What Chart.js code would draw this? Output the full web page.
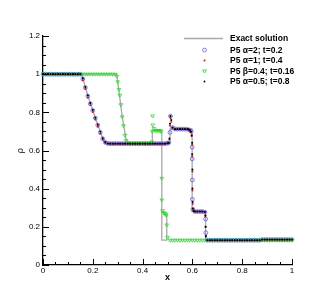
<!DOCTYPE html>
<html>
<head>
<meta charset="utf-8">
<script src="https://cdn.jsdelivr.net/npm/chart.js@4.4.0/dist/chart.umd.min.js"></script>
<style>
html, body { margin: 0; padding: 0; background: #fff; }
canvas { display: block; }
</style>
</head>
<body>
<canvas id="myChart" width="332" height="296"></canvas>
<script>
// density profiles

// exact solution, alpha cases (self similar)
const exactAX = [0, 0.155, 0.18, 0.2, 0.22, 0.245, 0.25, 0.51, 0.51, 0.599, 0.599, 0.653, 0.653, 1];
const exactAY = [1, 1, 0.888, 0.81, 0.735, 0.645, 0.636, 0.636, 0.712, 0.712, 0.28, 0.28, 0.13, 0.13];

// exact solution, beta case
const exactBX = [0, 0.296, 0.318, 0.336, 0.439, 0.439, 0.477, 0.477, 0.497, 0.497];
const exactBY = [1, 1, 0.78, 0.638, 0.638, 0.705, 0.705, 0.13, 0.13, 0.27];

// P5 alpha=2; t=0.2 (blue circles)
const xA2 = [0, 0.01, 0.02, 0.03, 0.04, 0.05, 0.06, 0.07, 0.08, 0.09, 0.1, 0.11, 0.12, 0.13, 0.14, 0.15,
  0.16, 0.17, 0.18, 0.19, 0.2, 0.21, 0.22, 0.23, 0.24, 0.25, 0.26,
  0.27, 0.28, 0.29, 0.3, 0.31, 0.32, 0.33, 0.34, 0.35, 0.36, 0.37, 0.38, 0.39, 0.4, 0.41, 0.42, 0.43, 0.44, 0.45, 0.46, 0.47, 0.48, 0.49, 0.5,
  0.505, 0.51, 0.512,
  0.52, 0.53, 0.54, 0.55, 0.56, 0.57, 0.58, 0.59, 0.595,
  0.599, 0.599, 0.6, 0.6, 0.602,
  0.61, 0.62, 0.63, 0.64, 0.65,
  0.653, 0.654,
  0.66, 0.67, 0.68, 0.69, 0.7, 0.71, 0.72, 0.73, 0.74, 0.75, 0.76, 0.77, 0.78, 0.79, 0.8, 0.81, 0.82, 0.83, 0.84, 0.85, 0.86, 0.87,
  0.88, 0.89, 0.9, 0.91, 0.92, 0.93, 0.94, 0.95, 0.96, 0.97, 0.98, 0.99, 1];
const rhoA2 = [1, 1, 1, 1, 1, 1, 1, 1, 1, 1, 1, 1, 1, 1, 1, 1,
  0.975, 0.93, 0.885, 0.845, 0.81, 0.77, 0.733, 0.695, 0.662, 0.643, 0.637,
  0.636, 0.636, 0.636, 0.636, 0.636, 0.636, 0.636, 0.636, 0.636, 0.636, 0.636, 0.636, 0.636, 0.636, 0.636, 0.636, 0.636, 0.636, 0.636, 0.636, 0.636, 0.636, 0.636, 0.638,
  0.642, 0.695, 0.78,
  0.72, 0.713, 0.712, 0.712, 0.712, 0.712, 0.711, 0.707, 0.7,
  0.617, 0.556, 0.445, 0.344, 0.292,
  0.28, 0.28, 0.28, 0.28, 0.277,
  0.241, 0.169,
  0.13, 0.13, 0.13, 0.13, 0.13, 0.13, 0.13, 0.13, 0.13, 0.13, 0.13, 0.13, 0.13, 0.13, 0.13, 0.13, 0.13, 0.13, 0.13, 0.13, 0.13, 0.13,
  0.133, 0.133, 0.133, 0.133, 0.133, 0.133, 0.133, 0.133, 0.133, 0.133, 0.133, 0.133, 0.133];

// P5 alpha=1; t=0.4 (red) and alpha=0.5; t=0.8 (black) share cell positions
const xFine = [0, 0.01, 0.02, 0.03, 0.04, 0.05, 0.06, 0.07, 0.08, 0.09, 0.1, 0.11, 0.12, 0.13, 0.14, 0.15,
  0.16, 0.17, 0.18, 0.19, 0.2, 0.21, 0.22, 0.23, 0.24, 0.25, 0.26,
  0.27, 0.28, 0.29, 0.3, 0.31, 0.32, 0.33, 0.34, 0.35, 0.36, 0.37, 0.38, 0.39, 0.4, 0.41, 0.42, 0.43, 0.44, 0.45, 0.46, 0.47, 0.48, 0.49, 0.5,
  0.505, 0.508, 0.51, 0.512, 0.515,
  0.52, 0.53, 0.54, 0.55, 0.56, 0.57, 0.58, 0.585, 0.59, 0.594, 0.597,
  0.599, 0.599, 0.6, 0.6, 0.601, 0.602,
  0.605, 0.61, 0.62, 0.63, 0.64, 0.65,
  0.652, 0.653, 0.654,
  0.66, 0.67, 0.68, 0.69, 0.7, 0.71, 0.72, 0.73, 0.74, 0.75, 0.76, 0.77, 0.78, 0.79, 0.8, 0.81, 0.82, 0.83, 0.84, 0.85, 0.86, 0.87,
  0.88, 0.89, 0.9, 0.91, 0.92, 0.93, 0.94, 0.95, 0.96, 0.97, 0.98, 0.99, 1];
const rhoA1 = [1, 1, 1, 1, 1, 1, 1, 1, 1, 1, 1, 1, 1, 1, 1, 1,
  0.968, 0.922, 0.877, 0.838, 0.802, 0.762, 0.725, 0.688, 0.657, 0.641, 0.637,
  0.636, 0.636, 0.636, 0.636, 0.636, 0.636, 0.636, 0.636, 0.636, 0.636, 0.636, 0.636, 0.636, 0.636, 0.636, 0.636, 0.636, 0.636, 0.636, 0.636, 0.636, 0.636, 0.636, 0.638,
  0.64, 0.665, 0.73, 0.77, 0.75,
  0.72, 0.712, 0.712, 0.712, 0.712, 0.712, 0.712, 0.71, 0.705, 0.697, 0.675,
  0.63, 0.57, 0.49, 0.39, 0.32, 0.295,
  0.283, 0.28, 0.28, 0.28, 0.28, 0.278,
  0.255, 0.2, 0.155,
  0.13, 0.13, 0.13, 0.13, 0.13, 0.13, 0.13, 0.13, 0.13, 0.13, 0.13, 0.13, 0.13, 0.13, 0.13, 0.13, 0.13, 0.13, 0.13, 0.13, 0.13, 0.13,
  0.133, 0.133, 0.133, 0.133, 0.133, 0.133, 0.133, 0.133, 0.133, 0.133, 0.133, 0.133, 0.133];
const rhoA05 = [1, 1, 1, 1, 1, 1, 1, 1, 1, 1, 1, 1, 1, 1, 1, 1,
  0.978, 0.933, 0.888, 0.848, 0.812, 0.772, 0.735, 0.698, 0.664, 0.644, 0.637,
  0.636, 0.636, 0.636, 0.636, 0.636, 0.636, 0.636, 0.636, 0.636, 0.636, 0.636, 0.636, 0.636, 0.636, 0.636, 0.636, 0.636, 0.636, 0.636, 0.636, 0.636, 0.636, 0.636, 0.638,
  0.64, 0.66, 0.74, 0.78, 0.76,
  0.72, 0.712, 0.712, 0.712, 0.712, 0.712, 0.712, 0.71, 0.706, 0.698, 0.68,
  0.64, 0.58, 0.5, 0.4, 0.33, 0.295,
  0.283, 0.28, 0.28, 0.28, 0.28, 0.278,
  0.26, 0.2, 0.15,
  0.13, 0.13, 0.13, 0.13, 0.13, 0.13, 0.13, 0.13, 0.13, 0.13, 0.13, 0.13, 0.13, 0.13, 0.13, 0.13, 0.13, 0.13, 0.13, 0.13, 0.13, 0.13,
  0.133, 0.133, 0.133, 0.133, 0.133, 0.133, 0.133, 0.133, 0.133, 0.133, 0.133, 0.133, 0.133];

// P5 beta=0.4; t=0.16 (green triangles)
const xB04 = [0, 0.01, 0.02, 0.03, 0.04, 0.05, 0.06, 0.07, 0.08, 0.09, 0.1, 0.11, 0.12, 0.13, 0.14,
  0.15, 0.16, 0.17, 0.18, 0.19, 0.2, 0.21, 0.22, 0.23, 0.24, 0.25, 0.26, 0.27, 0.28, 0.29,
  0.296, 0.3, 0.305, 0.309, 0.313, 0.318, 0.323, 0.329, 0.334, 0.34,
  0.35, 0.36, 0.37, 0.38, 0.39, 0.4, 0.41, 0.42, 0.43,
  0.437, 0.439, 0.44, 0.441, 0.445, 0.45, 0.455, 0.46, 0.465, 0.47, 0.474,
  0.477, 0.477, 0.48, 0.484, 0.488, 0.492, 0.495, 0.497, 0.5,
  0.51, 0.52, 0.53, 0.54, 0.55, 0.56, 0.57, 0.58, 0.59, 0.6, 0.61, 0.62, 0.63, 0.64, 0.65, 0.66, 0.67, 0.68, 0.69, 0.7,
  0.71, 0.72, 0.73, 0.74, 0.75, 0.76, 0.77, 0.78, 0.79, 0.8, 0.81, 0.82, 0.83, 0.84, 0.85, 0.86, 0.87, 0.88, 0.89, 0.9,
  0.91, 0.92, 0.93, 0.94, 0.95, 0.96, 0.97, 0.98, 0.99, 1];
const rhoB04 = [1, 1, 1, 1, 1, 1, 1, 1, 1, 1, 1, 1, 1, 1, 1,
  1, 1, 1, 1, 1, 1, 1, 1, 1, 1, 1, 1, 1, 1, 1,
  0.99, 0.96, 0.92, 0.89, 0.84, 0.777, 0.73, 0.68, 0.652, 0.642,
  0.638, 0.638, 0.638, 0.638, 0.638, 0.638, 0.638, 0.638, 0.638,
  0.645, 0.7, 0.781, 0.734, 0.715, 0.705, 0.705, 0.705, 0.705, 0.705, 0.7,
  0.454, 0.341, 0.285, 0.275, 0.27, 0.268, 0.26, 0.21, 0.145,
  0.13, 0.13, 0.13, 0.13, 0.13, 0.13, 0.13, 0.13, 0.13, 0.13, 0.13, 0.13, 0.13, 0.13, 0.13, 0.13, 0.13, 0.13, 0.13, 0.13,
  0.13, 0.13, 0.13, 0.13, 0.13, 0.13, 0.13, 0.13, 0.13, 0.13, 0.13, 0.13, 0.13, 0.13, 0.13, 0.13, 0.13, 0.13, 0.13, 0.13,
  0.13, 0.13, 0.13, 0.13, 0.13, 0.13, 0.13, 0.13, 0.13, 0.13];

const legendLabels = ['Exact solution', 'P5 \u03b1=2; t=0.2', 'P5 \u03b1=1; t=0.4', 'P5 \u03b2=0.4; t=0.16', 'P5 \u03b1=0.5; t=0.8'];

function pts(xs, ys) {
  return xs.map((x, i) => ({x: x, y: ys[i]}));
}

// label only every 0.2, minor ticks every 0.05
function majorLabel(v) {
  const k = Math.round(v / 0.2);
  return Math.abs(v - k * 0.2) < 1e-6 ? String(k * 2 / 10) : '';
}

const GRAY = '#a9a9a9';
const BLUE = '#5a5aff';
const RED = '#ff0000';
const GREEN = '#22dd22';

// tecplot style ticks pointing into the plot
const inwardTicks = {
  id: 'inwardTicks',
  afterDatasetsDraw(chart) {
    const {ctx, chartArea, scales} = chart;
    ctx.save();
    ctx.strokeStyle = '#000';
    ctx.lineWidth = 1;
    scales.x.ticks.forEach(t => {
      const px = Math.round(scales.x.getPixelForValue(t.value)) + 0.5;
      const len = t.label ? 6 : 3;
      ctx.beginPath();
      ctx.moveTo(px, chartArea.bottom);
      ctx.lineTo(px, chartArea.bottom - len);
      ctx.stroke();
    });
    scales.y.ticks.forEach(t => {
      const py = Math.round(scales.y.getPixelForValue(t.value)) + 0.5;
      const len = t.label ? 6 : 3;
      ctx.beginPath();
      ctx.moveTo(chartArea.left, py);
      ctx.lineTo(chartArea.left + len, py);
      ctx.stroke();
    });
    ctx.restore();
  }
};

const legendBox = {
  id: 'legendBox',
  afterDraw(chart) {
    const ctx = chart.ctx;
    const rows = [38.5, 50, 60.5, 71, 81.5];
    const mx = 204.5, tx = 230;
    ctx.save();
    // exact line sample
    ctx.strokeStyle = GRAY;
    ctx.lineWidth = 1.5;
    ctx.beginPath();
    ctx.moveTo(184, rows[0]);
    ctx.lineTo(223, rows[0]);
    ctx.stroke();
    // blue circle
    ctx.strokeStyle = BLUE;
    ctx.lineWidth = 0.8;
    ctx.beginPath();
    ctx.arc(mx, rows[1], 1.9, 0, Math.PI * 2);
    ctx.stroke();
    // red dot
    ctx.fillStyle = RED;
    ctx.beginPath();
    ctx.arc(mx, rows[2], 1, 0, Math.PI * 2);
    ctx.fill();
    // green down triangle
    ctx.strokeStyle = GREEN;
    ctx.beginPath();
    ctx.moveTo(mx - 1.9, rows[3] - 1.1);
    ctx.lineTo(mx + 1.9, rows[3] - 1.1);
    ctx.lineTo(mx, rows[3] + 2);
    ctx.closePath();
    ctx.stroke();
    // black dot
    ctx.fillStyle = '#000';
    ctx.beginPath();
    ctx.arc(mx, rows[4], 0.9, 0, Math.PI * 2);
    ctx.fill();
    ctx.font = 'bold 8.5px "Liberation Sans", Arial, sans-serif';
    ctx.textBaseline = 'middle';
    ctx.fillStyle = '#000';
    legendLabels.forEach((s, i) => ctx.fillText(s, tx, rows[i] + 0.5));
    ctx.restore();
  }
};

const ctx = document.getElementById('myChart');
new Chart(ctx, {
  type: 'scatter',
  data: {
    datasets: [
      {
        label: legendLabels[4],
        data: pts(xFine, rhoA05),
        pointStyle: 'circle',
        pointRadius: 1.05,
        pointBorderWidth: 0,
        backgroundColor: '#000',
        borderColor: '#000',
        clip: false
      },
      {
        label: legendLabels[2],
        data: pts(xFine, rhoA1),
        pointStyle: 'circle',
        pointRadius: 0.95,
        pointBorderWidth: 0,
        backgroundColor: RED,
        borderColor: RED,
        clip: false
      },
      {
        label: legendLabels[3],
        data: pts(xB04, rhoB04),
        pointStyle: 'triangle',
        rotation: 180,
        pointRadius: 2,
        pointBorderWidth: 0.8,
        backgroundColor: 'rgba(0,0,0,0)',
        borderColor: GREEN,
        clip: false
      },
      {
        label: legendLabels[1],
        data: pts(xA2, rhoA2),
        pointStyle: 'circle',
        pointRadius: 1.9,
        pointBorderWidth: 0.8,
        backgroundColor: 'rgba(0,0,0,0)',
        borderColor: BLUE,
        clip: false
      },
      {
        label: legendLabels[0],
        data: pts(exactAX, exactAY),
        showLine: true,
        pointRadius: 0,
        borderColor: GRAY,
        borderWidth: 1.3
      },
      {
        label: legendLabels[0],
        data: pts(exactBX, exactBY),
        showLine: true,
        pointRadius: 0,
        borderColor: GRAY,
        borderWidth: 1.3
      }
    ]
  },
  options: {
    responsive: false,
    animation: false,
    devicePixelRatio: 1,
    layout: {padding: {left: 0, right: 40, top: 36, bottom: 0}},
    plugins: {
      legend: {display: false},
      tooltip: {enabled: false}
    },
    scales: {
      x: {
        type: 'linear',
        min: 0,
        max: 1,
        grid: {display: false, drawTicks: false},
        border: {display: true, color: '#000', width: 1.3},
        ticks: {
          stepSize: 0.05,
          autoSkip: false,
          maxRotation: 0,
          padding: 1,
          color: '#000',
          font: {family: '"Liberation Sans", Arial, sans-serif', size: 8},
          callback: majorLabel
        },
        title: {
          display: true,
          text: 'x',
          color: '#000',
          font: {family: '"Liberation Sans", Arial, sans-serif', size: 9, weight: 'bold'},
          padding: {top: 0, bottom: 13}
        },
        afterFit(scale) { scale.height = 31; }
      },
      y: {
        type: 'linear',
        min: 0,
        max: 1.2,
        grid: {display: false, drawTicks: false},
        border: {display: true, color: '#000', width: 1.3},
        ticks: {
          stepSize: 0.05,
          autoSkip: false,
          padding: 3,
          color: '#000',
          font: {family: '"Liberation Sans", Arial, sans-serif', size: 8},
          callback: majorLabel
        },
        title: {
          display: true,
          text: '\u03c1',
          color: '#000',
          font: {family: '"DejaVu Serif", serif', size: 9},
          padding: {top: 15, bottom: 0}
        },
        afterFit(scale) { scale.width = 43; }
      }
    }
  },
  plugins: [inwardTicks, legendBox]
});
</script>
</body>
</html>
